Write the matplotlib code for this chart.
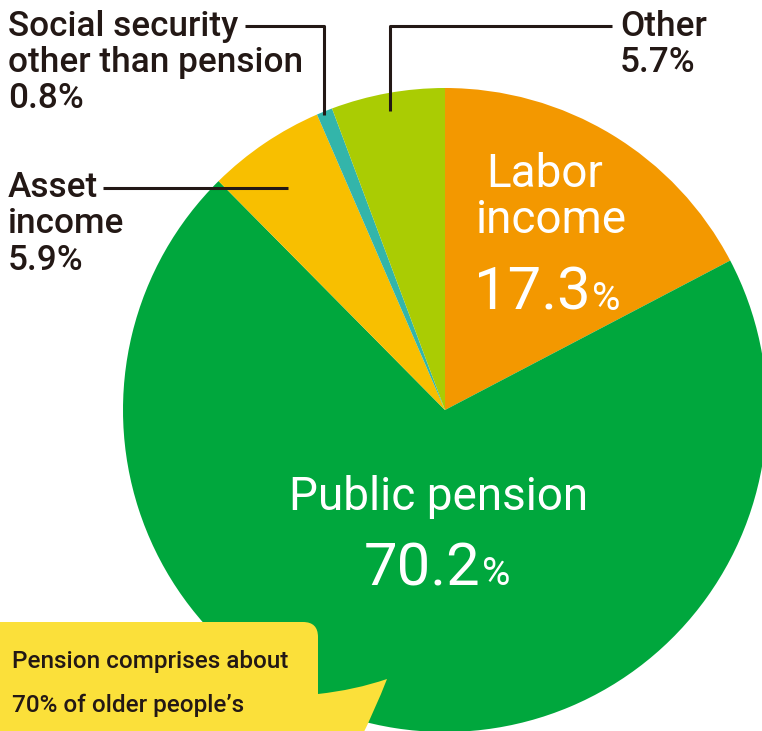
import matplotlib.pyplot as plt
from matplotlib.path import Path
from matplotlib.patches import PathPatch

labels = ["Labor income", "Public pension", "Asset income",
          "Social security other than pension", "Other"]
shares = [17.3, 70.2, 5.9, 0.8, 5.7]
colors = ["#F39800", "#00A73D", "#F8BF00", "#33B5AA", "#AACC03"]

W, H = 762, 731
DARK = "#231815"
plt.rcParams["font.family"] = ["Roboto", "DejaVu Sans"]


def Y(y):
    # work in pixel rows from the top
    return H - y


fig = plt.figure(figsize=(W / 100, H / 100), dpi=100)
ax = fig.add_axes([0, 0, 1, 1])

ax.pie(shares, colors=colors, startangle=90, counterclock=False,
       center=(445, Y(410)), radius=322, frame=True,
       wedgeprops={"linewidth": 0})
ax.set_xlim(0, W)
ax.set_ylim(0, H)
ax.set_aspect("equal")
ax.axis("off")


def lines(x, baselines, texts, size, **kw):
    for b, t in zip(baselines, texts):
        ax.text(x, Y(b), t, fontsize=size, va="baseline", color=DARK,
                fontweight="medium", **kw)


# outside labels with leader lines
lab_size = 25.3
lines(8, [36, 72, 108], ["Social security", "other than pension",
                         f"{shares[3]}%"], lab_size)
lines(8, [197, 233, 270], ["Asset", "income", f"{shares[2]}%"], lab_size)
lines(620, [36, 72], ["Other", f"{shares[4]}%"], lab_size)

lk = dict(color=DARK, lw=2.2, solid_capstyle="butt")
ax.plot([245, 324, 324], [Y(26), Y(26), Y(115)], **lk)
ax.plot([612, 390, 390], [Y(26), Y(26), Y(111)], **lk)
ax.plot([103, 288], [Y(188), Y(188)], **lk)


# labels inside the two big slices
def pct(x, y, value, big, small):
    t = ax.text(x, Y(y), f"{value}", fontsize=big, color="white",
                va="baseline", ha="center")
    fig.canvas.draw()
    bb = t.get_window_extent()
    t.set_x(x - 0.5 * 0.3 * bb.width)
    bb = t.get_window_extent()
    ax.text(bb.x1 + 1, Y(y), "%", fontsize=small, color="white",
            va="baseline", ha="left")


ax.text(545, Y(187), "Labor", fontsize=33, color="white",
        va="baseline", ha="center")
ax.text(551, Y(233), "income", fontsize=33, color="white",
        va="baseline", ha="center")
pct(550, 310, shares[0], 43, 28)

ax.text(439, Y(510), "Public pension", fontsize=33, color="white",
        va="baseline", ha="center")
pct(440, 585, shares[1], 43, 28)

# speech bubble in the lower left
verts = [(0, 740), (0, 622), (303, 622), (318, 622), (318, 637),
         (318, 694), (355, 690), (387, 679), (375, 710), (360, 740),
         (0, 740)]
codes = [Path.MOVETO, Path.LINETO, Path.LINETO, Path.CURVE3, Path.CURVE3,
         Path.LINETO, Path.CURVE3, Path.CURVE3, Path.CURVE3, Path.CURVE3,
         Path.CLOSEPOLY]
bubble = Path([(x, Y(y)) for x, y in verts], codes)
ax.add_patch(PathPatch(bubble, facecolor="#FBE03A", edgecolor="none"))

ax.text(12, Y(668), "Pension comprises about", fontsize=17.5, color=DARK,
        va="baseline", fontweight="medium")
ax.text(12, Y(712), "70% of older people\u2019s", fontsize=17.5, color=DARK,
        va="baseline", fontweight="medium")

fig.savefig("out.png", dpi=100)
